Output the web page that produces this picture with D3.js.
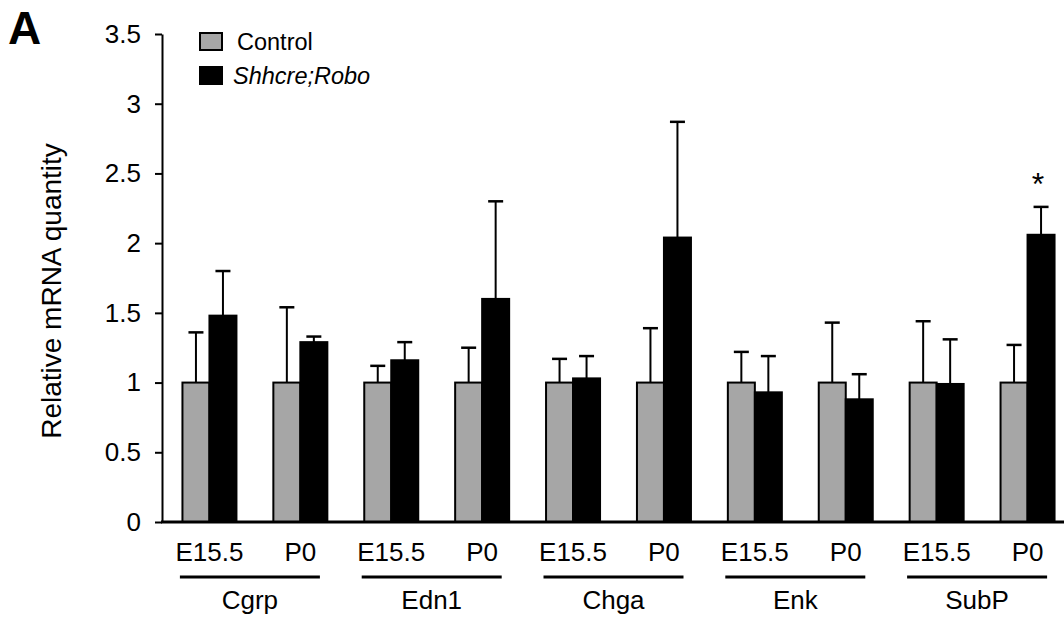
<!DOCTYPE html>
<html>
<head>
<meta charset="utf-8">
<script src="https://cdn.jsdelivr.net/npm/d3@7"></script>
<style>
  body { margin: 0; background: #fff; }
  text { font-family: "Liberation Sans", Arial, sans-serif; fill: #000; }
</style>
</head>
<body>
<div id="chart"></div>
<script>
// data
var genes = ["Cgrp", "Edn1", "Chga", "Enk", "SubP"];
var stages = ["E15.5", "P0"];
var controlVals = [1, 1, 1, 1, 1, 1, 1, 1, 1, 1];
var controlErr = [0.36, 0.54, 0.12, 0.25, 0.17, 0.39, 0.22, 0.43, 0.44, 0.27];
var mutantVals = [1.48, 1.29, 1.16, 1.60, 1.03, 2.04, 0.93, 0.88, 0.99, 2.06];
var mutantErr = [0.32, 0.04, 0.13, 0.70, 0.16, 0.83, 0.26, 0.18, 0.32, 0.20];
var significant = [9];
var yTicks = [0, 0.5, 1, 1.5, 2, 2.5, 3, 3.5];
var seriesNames = ["Control", "Shhcre;Robo"];

var W = 1064, H = 620;
var barW = 27;

var svg = d3.select("#chart")
    .append("svg")
        .attr("width", W)
        .attr("height", H);

// one slot per gene x stage
var slots = [];
genes.forEach(function(g, gi) {
    stages.forEach(function(s, si) {
        slots.push({gene: g, stage: s, i: gi * 2 + si});
    });
});

var x = d3.scaleBand()
    .domain(slots.map(function(d) { return d.i; }))
    .range([164, 1073])
    .padding(0);
var y = d3.scaleLinear().domain([0, 3.5]).range([522, 34]);

var cx = function(i) { return x(i) + x.bandwidth() / 2; };

var bars = [];
slots.forEach(function(d) {
    bars.push({i: d.i, v: controlVals[d.i], e: controlErr[d.i], x0: cx(d.i) - barW, fill: "#a6a6a6"});
    bars.push({i: d.i, v: mutantVals[d.i], e: mutantErr[d.i], x0: cx(d.i), fill: "#000"});
});

// error bars (behind the bars)
var err = svg.append("g");
err.selectAll("line.v")
    .data(bars)
    .enter()
    .append("line")
    .attr("x1", function(d) { return d.x0 + barW / 2; })
    .attr("x2", function(d) { return d.x0 + barW / 2; })
    .attr("y1", function(d) { return y(d.v); })
    .attr("y2", function(d) { return y(d.v + d.e); })
    .style("stroke", "#000")
    .style("stroke-width", 2);
err.selectAll("line.cap")
    .data(bars)
    .enter()
    .append("line")
    .attr("x1", function(d) { return d.x0 + barW / 2 - 7.5; })
    .attr("x2", function(d) { return d.x0 + barW / 2 + 7.5; })
    .attr("y1", function(d) { return y(d.v + d.e); })
    .attr("y2", function(d) { return y(d.v + d.e); })
    .style("stroke", "#000")
    .style("stroke-width", 2.5);

svg.selectAll("rect.bar")
    .data(bars)
    .enter()
    .append("rect")
    .attr("x", function(d) { return d.x0; })
    .attr("y", function(d) { return y(d.v); })
    .attr("width", barW)
    .attr("height", function(d) { return y(0) - y(d.v); })
    .style("fill", function(d) { return d.fill; })
    .style("stroke", "#000")
    .style("stroke-width", 2);

// significance star
svg.selectAll("text.star")
    .data(significant)
    .enter()
    .append("text")
    .attr("x", function(i) { return cx(i) + barW / 2 - 3; })
    .attr("y", function(i) { return y(mutantVals[i] + mutantErr[i]) - 12; })
    .attr("text-anchor", "middle")
    .attr("font-size", "32px")
    .text("*");

// y axis
var yAxis = svg.append("g")
    .attr("transform", "translate(162,0)")
    .call(d3.axisLeft(y)
        .tickValues(yTicks)
        .tickFormat(function(d) { return String(d); })
        .tickSize(7)
        .tickSizeOuter(0)
        .tickPadding(14));
yAxis.select(".domain").style("stroke-width", 2);
yAxis.selectAll(".tick line").style("stroke-width", 2);
yAxis.selectAll(".tick text")
    .attr("font-family", "Liberation Sans, Arial, sans-serif")
    .attr("font-size", "26px");

// baseline
svg.append("line")
    .attr("x1", 161)
    .attr("x2", W)
    .attr("y1", y(0))
    .attr("y2", y(0))
    .style("stroke", "#000")
    .style("stroke-width", 3);

// stage labels
svg.selectAll("text.stage")
    .data(slots)
    .enter()
    .append("text")
    .attr("x", function(d) { return cx(d.i); })
    .attr("y", 561)
    .attr("text-anchor", "middle")
    .attr("font-size", "26px")
    .text(function(d) { return d.stage; });

// gene underline + label
var geneCenter = function(gi) { return (cx(gi * 2) + cx(gi * 2 + 1)) / 2 - 5; };
svg.selectAll("line.gene")
    .data(genes)
    .enter()
    .append("line")
    .attr("x1", function(g, gi) { return geneCenter(gi) - 70; })
    .attr("x2", function(g, gi) { return geneCenter(gi) + 70; })
    .attr("y1", 577)
    .attr("y2", 577)
    .style("stroke", "#000")
    .style("stroke-width", 3);
svg.selectAll("text.gene")
    .data(genes)
    .enter()
    .append("text")
    .attr("x", function(g, gi) { return geneCenter(gi); })
    .attr("y", 609)
    .attr("text-anchor", "middle")
    .attr("font-size", "26px")
    .text(function(g) { return g; });

// y axis title
svg.append("text")
    .attr("transform", "translate(61,291) rotate(-90)")
    .attr("text-anchor", "middle")
    .attr("font-size", "28px")
    .text("Relative mRNA quantity");

// panel letter
svg.append("text")
    .attr("x", 8)
    .attr("y", 44)
    .attr("font-size", "46px")
    .attr("font-weight", "bold")
    .text("A");

// legend
var legend = svg.selectAll("g.legend")
    .data(seriesNames)
    .enter()
    .append("g")
    .attr("transform", function(d, i) { return "translate(200," + (33 + i * 34) + ")"; });
legend.append("rect")
    .attr("width", 22)
    .attr("height", 17)
    .style("fill", function(d, i) { return i === 0 ? "#a6a6a6" : "#000"; })
    .style("stroke", "#000")
    .style("stroke-width", 2);
legend.append("text")
    .attr("x", function(d, i) { return i === 0 ? 37 : 33; })
    .attr("y", 17)
    .attr("font-size", "23.5px")
    .attr("font-style", function(d, i) { return i === 0 ? "normal" : "italic"; })
    .text(function(d) { return d; });
</script>
</body>
</html>
